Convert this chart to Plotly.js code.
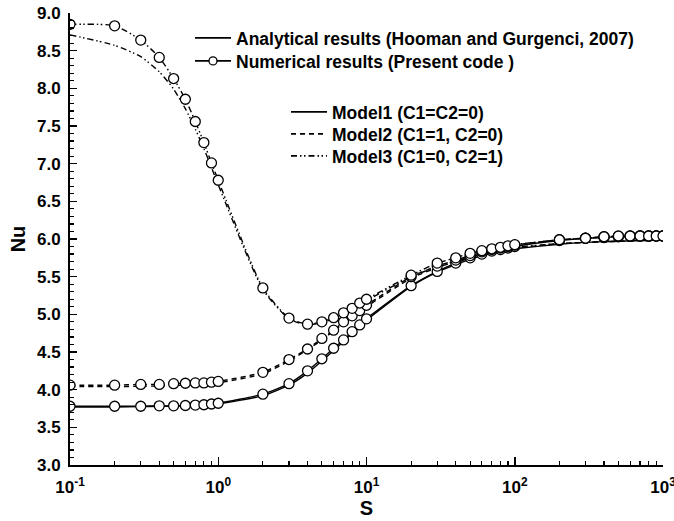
<!DOCTYPE html>
<html>
<head>
<meta charset="utf-8">
<script src="https://cdn.plot.ly/plotly-3.0.1.min.js"></script>
<style>html,body{margin:0;padding:0;background:#fff;}#chart{width:674px;height:521px;}</style>
</head>
<body>
<div id="chart"></div>
<script>
// S values (shared by all series)
var S = [0.1,0.2,0.3,0.4,0.5,0.6,0.7,0.8,0.9,1,
         2,3,4,5,6,7,8,9,10,
         20,30,40,50,60,70,80,90,100,
         200,300,400,500,600,700,800,900,1000];

// Numerical results (Present code)
var num1 = [3.78,3.78,3.78,3.785,3.785,3.79,3.795,3.80,3.81,3.82,
            3.94,4.08,4.25,4.41,4.55,4.66,4.77,4.86,4.94,
            5.38,5.57,5.68,5.75,5.80,5.84,5.86,5.88,5.90,
            5.98,6.01,6.02,6.03,6.035,6.04,6.04,6.04,6.04];
var num2 = [4.06,4.06,4.07,4.07,4.08,4.085,4.09,4.09,4.10,4.11,
            4.23,4.40,4.54,4.68,4.79,4.90,4.98,5.05,5.12,
            5.50,5.64,5.72,5.78,5.83,5.86,5.88,5.90,5.92,
            5.99,6.01,6.03,6.035,6.04,6.04,6.04,6.04,6.04];
var num3 = [8.85,8.83,8.64,8.41,8.13,7.855,7.56,7.28,7.01,6.78,
            5.35,4.95,4.87,4.90,4.955,5.02,5.08,5.15,5.20,
            5.52,5.68,5.75,5.81,5.845,5.87,5.89,5.91,5.925,
            5.99,6.01,6.03,6.04,6.04,6.04,6.04,6.04,6.04];

// Analytical results (Hooman and Gurgenci, 2007)
var ana1 = [3.77,3.77,3.775,3.78,3.78,3.785,3.79,3.795,3.80,3.81,
            3.92,4.06,4.22,4.38,4.52,4.64,4.75,4.84,4.92,
            5.37,5.56,5.66,5.73,5.78,5.81,5.84,5.86,5.87,
            5.93,5.955,5.965,5.97,5.975,5.98,5.98,5.985,5.985];
var ana2 = [4.04,4.04,4.045,4.05,4.055,4.06,4.07,4.075,4.08,4.09,
            4.21,4.38,4.53,4.66,4.78,4.88,4.96,5.03,5.10,
            5.48,5.62,5.70,5.76,5.80,5.83,5.85,5.87,5.88,
            5.94,5.955,5.965,5.97,5.975,5.98,5.98,5.985,5.985];
var ana3 = [8.71,8.57,8.42,8.22,7.99,7.73,7.46,7.20,6.95,6.72,
            5.33,4.94,4.86,4.89,4.94,5.00,5.06,5.12,5.18,
            5.50,5.63,5.71,5.77,5.81,5.84,5.86,5.88,5.89,
            5.94,5.955,5.965,5.97,5.975,5.98,5.98,5.985,5.985];

// Tick labels
var xTickVals = [0.1,1,10,100,1000];
var xTickText = ['10<sup>-1</sup>','10<sup>0</sup>','10<sup>1</sup>','10<sup>2</sup>','10<sup>3</sup>'];

// Legend labels
var legendTop = ['Analytical results (Hooman and Gurgenci, 2007)','Numerical results (Present code )'];
var legendModels = ['Model1 (C1=C2=0)','Model2 (C1=1, C2=0)','Model3 (C1=0, C2=1)'];

// minor x ticks: 2..9 in every decade
var xMinor = [];
for (var d = -1; d < 3; d++) {
  for (var m = 2; m <= 9; m++) xMinor.push(m * Math.pow(10, d));
}

var DASHES = ['solid','5px,4px','6px,3px,1.5px,2.5px,1.5px,3px'];
var anaSeries = [ana1, ana2, ana3];
var numSeries = [num1, num2, num3];

var traces = [];
for (var i = 0; i < 3; i++) {
  traces.push({x:S, y:anaSeries[i], mode:'lines', showlegend:false,
    line:{color:'#000', width:1.4, dash:DASHES[i], shape:'spline', smoothing:0.6}});
}
for (var j = 0; j < 3; j++) {
  traces.push({x:S, y:numSeries[j], mode:'lines+markers', showlegend:false,
    line:{color:'#000', width:1.4, dash:DASHES[j], shape:'spline', smoothing:0.6},
    marker:{symbol:'circle', size:10, color:'#fff', line:{color:'#000', width:1.3}}});
}
// legend-only entries, one legend each for exact placement
traces.push({x:[null], y:[null], mode:'lines', name:legendTop[0], legend:'legend',
  line:{color:'#000', width:1.6}});
traces.push({x:[null], y:[null], mode:'lines+markers', name:legendTop[1], legend:'legend2',
  line:{color:'#000', width:1.6}, marker:{symbol:'circle', size:8, color:'#fff', line:{color:'#000', width:1.3}}});
for (var k = 0; k < 3; k++) {
  traces.push({x:[null], y:[null], mode:'lines', name:legendModels[k], legend:'legend' + (k + 3),
    line:{color:'#000', width:1.6, dash:DASHES[k]}});
}

var FONT = 'Liberation Sans, Arial, sans-serif';
var PL = 70, PT = 13, PW = 593, PH = 452;
function lg(px, py) {
  return {x:(px - PL) / PW, y:1 - (py - PT) / PH, xanchor:'left', yanchor:'middle',
    bgcolor:'rgba(0,0,0,0)', borderwidth:0, itemwidth:36,
    font:{family:FONT, size:17.5, weight:'bold', color:'#000'}};
}
var layout = {
  width:674, height:521,
  margin:{l:PL, r:11, t:PT, b:56},
  paper_bgcolor:'#fff', plot_bgcolor:'#fff',
  font:{family:FONT, color:'#000', size:16, weight:'bold'},
  showlegend:true,
  legend:lg(190, 38),
  legend2:lg(190, 61),
  legend3:lg(286, 112),
  legend4:lg(286, 134),
  legend5:lg(286, 156),
  xaxis:{type:'log', range:[-1,3], tickvals:xTickVals, ticktext:xTickText,
    ticks:'inside', ticklen:8, tickwidth:1.5, tickcolor:'#000',
    showline:true, linewidth:2, linecolor:'#000', showgrid:false, zeroline:false, mirror:false,
    tickfont:{family:FONT, size:17, weight:'bold', color:'#000'},
    ticklabelstandoff:6, ticklabeloverflow:'allow',
    minor:{tickmode:'array', tickvals:xMinor, ticks:'inside', ticklen:4, tickwidth:1.2, tickcolor:'#000', showgrid:false},
    title:{text:'S', font:{family:FONT, size:20, weight:'bold', color:'#000'}, standoff:4}},
  yaxis:{range:[3,9], dtick:0.5, tick0:3, tickformat:'.1f',
    ticks:'inside', ticklen:7, tickwidth:1.5, tickcolor:'#000',
    showline:true, linewidth:2, linecolor:'#000', showgrid:false, zeroline:false, mirror:false,
    tickfont:{family:FONT, size:17, weight:'bold', color:'#000'},
    ticklabelstandoff:4,
    minor:{dtick:0.1, ticks:'inside', ticklen:4, tickwidth:1.2, tickcolor:'#000', showgrid:false},
    title:{text:'Nu', font:{family:FONT, size:20, weight:'bold', color:'#000'}, standoff:6}}
};

Plotly.newPlot('chart', traces, layout, {displayModeBar:false, staticPlot:true});
</script>
</body>
</html>
